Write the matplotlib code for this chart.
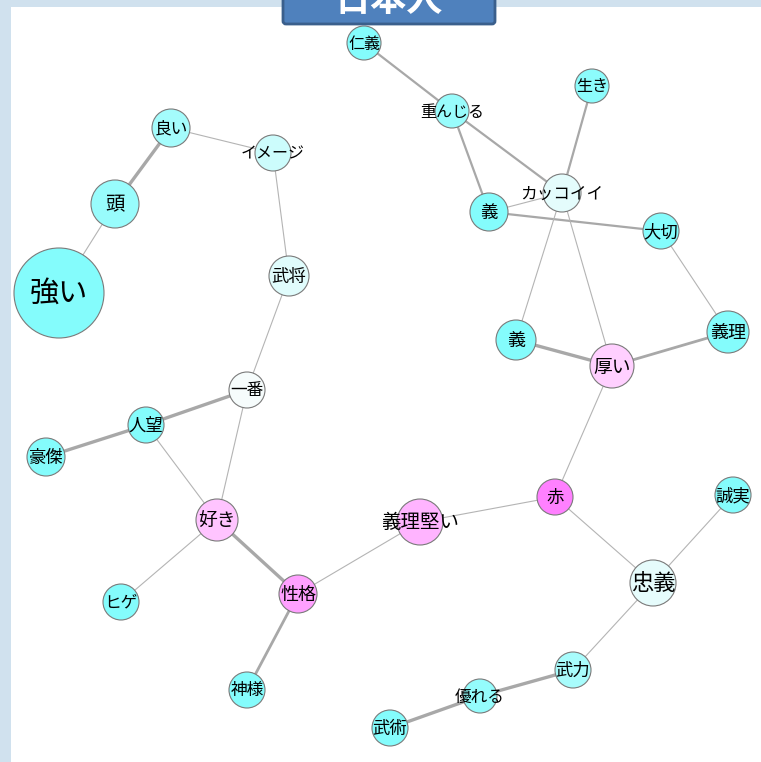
import matplotlib
matplotlib.use("Agg")
import matplotlib.pyplot as plt
from matplotlib.patches import Circle, Rectangle, FancyBboxPatch

plt.rcParams['font.family'] = ['Noto Sans CJK JP', 'DejaVu Sans']

# nodes: label, x, y (pixel layout), radius, colour
labels = ["仁義", "生き", "重んじる", "良い", "イメージ", "カッコイイ", "義", "大切",
          "頭", "強い", "武将", "義", "義理", "厚い", "一番", "人望", "豪傑", "好き",
          "赤", "誠実", "義理堅い", "忠義", "ヒゲ", "性格", "武力", "優れる", "神様", "武術"]
node_x = [364, 592, 452, 171, 273, 562, 489, 661, 115, 59, 289, 516, 728, 612, 247,
          146, 46, 217, 555, 733, 420, 653, 121, 298, 573, 480, 247, 390]
node_y = [43, 86, 111, 128, 153, 193, 212, 231, 204, 293, 276, 340, 332, 366, 390,
          425, 457, 520, 497, 495, 522, 583, 602, 594, 670, 696, 690, 728]
node_r = [17, 17, 17, 19, 18, 19, 19, 18, 24, 45, 20, 20, 21, 22, 18, 18, 19, 21,
          18, 18, 23, 23, 18, 19, 18, 17, 18, 18]
node_col = ["#84fcfc", "#8cfcfc", "#98fcfc", "#a4fcfc", "#ccfcfc", "#e4fcfc", "#84fcfc",
            "#84fcfc", "#98fcfc", "#84fcfc", "#e0fcfc", "#84fcfc", "#84fcfc", "#ffd0ff",
            "#f6fcfc", "#84fcfc", "#84fcfc", "#ffc4ff", "#ff80ff", "#84fcfc", "#ffb4ff",
            "#e6fcfc", "#84fcfc", "#ffa0ff", "#a8fcfc", "#94fcfc", "#84fcfc", "#84fcfc"]
label_size = [11.5, 11.5, 11.5, 12, 11.5, 12, 12.5, 12.5, 14, 21, 12.5, 13, 13, 13.5,
              12, 12.5, 12.5, 13.5, 12.5, 12.5, 14, 16, 12, 13, 12.5, 12, 12, 12.5]

# edges: (from index, to index, weight)
edges = [(0, 2, 2), (2, 5, 2), (2, 6, 2), (1, 5, 2), (5, 6, 1), (6, 7, 2), (7, 12, 1),
         (5, 11, 1), (5, 13, 1), (11, 13, 3), (12, 13, 2.5), (13, 18, 1), (18, 20, 1),
         (18, 21, 1), (19, 21, 1), (21, 24, 1), (24, 25, 3), (25, 27, 3), (20, 23, 1),
         (23, 17, 3), (23, 26, 2.5), (17, 22, 1), (17, 15, 1), (17, 14, 1), (15, 14, 3),
         (15, 16, 3), (14, 10, 1), (10, 4, 1), (4, 3, 1), (3, 8, 3), (8, 9, 1)]

W, H = 761, 762
fig = plt.figure(figsize=(W / 100, H / 100), dpi=100)
fig.patch.set_facecolor("#d0e1ee")
ax = fig.add_axes([0, 0, 1, 1])
ax.set_xlim(0, W)
ax.set_ylim(H, 0)
ax.set_aspect("equal")
ax.axis("off")

# white panel
ax.add_patch(Rectangle((11, 7), W - 11, H - 7, facecolor="white", edgecolor="none", zorder=0))

for a, b, w in edges:
    col = "#b4b4b4" if w < 2 else "#a8a8a8"
    ax.plot([node_x[a], node_x[b]], [node_y[a], node_y[b]], color=col,
            lw=w * 0.8, solid_capstyle="butt", zorder=1)

for i, lab in enumerate(labels):
    ax.add_patch(Circle((node_x[i], node_y[i]), node_r[i], facecolor=node_col[i],
                        edgecolor="#7a7a7a", lw=0.8, zorder=2))
    ax.text(node_x[i], node_y[i] + 1, lab, fontsize=label_size[i], ha="center",
            va="center", color="black", zorder=3)

# title box (cut at top, as in the original)
ax.add_patch(FancyBboxPatch((283, -20), 212, 44, boxstyle="round,pad=0,rounding_size=3",
                            facecolor="#4f81bd", edgecolor="#3a5f8c", lw=2, zorder=4))
ax.text(389, 1, "日本人", fontsize=26, fontweight="bold", color="white",
        ha="center", va="center", zorder=5)

fig.savefig("out.png", dpi=100)
